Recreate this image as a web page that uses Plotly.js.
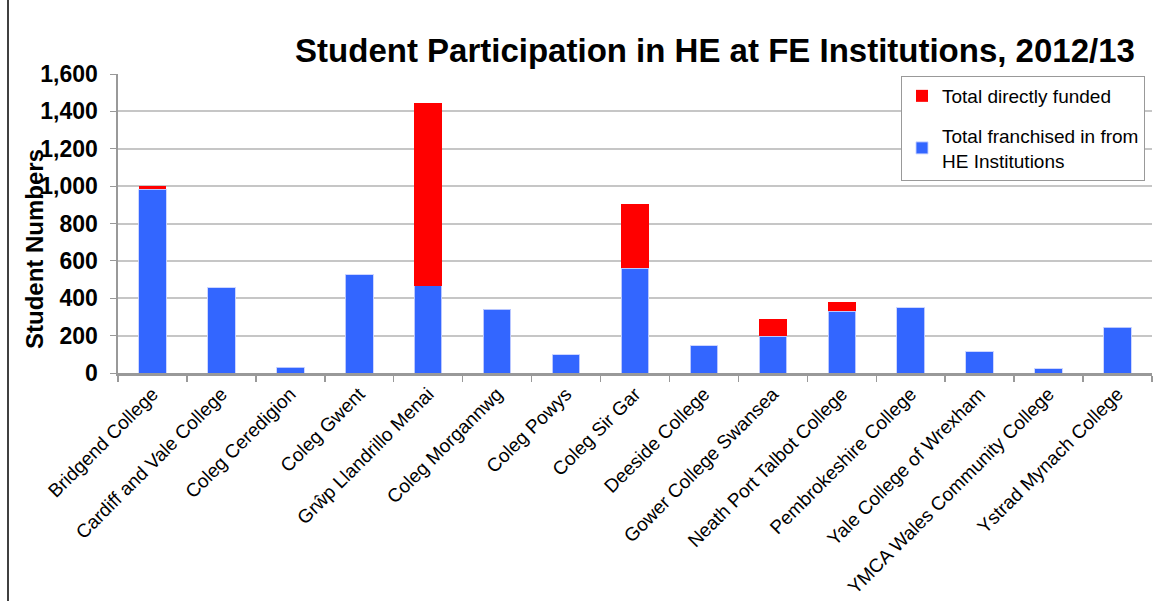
<!DOCTYPE html>
<html>
<head>
<meta charset="utf-8">
<script src="https://cdn.plot.ly/plotly-3.0.1.min.js"></script>
<style>html,body{margin:0;padding:0;background:#fff;}#chart{width:1153px;height:601px;}</style>
</head>
<body>
<div id="chart"></div>
<script>
const colleges = ["Bridgend College","Cardiff and Vale College","Coleg Ceredigion","Coleg Gwent","Grŵp Llandrillo Menai","Coleg Morgannwg","Coleg Powys","Coleg Sir Gar","Deeside College","Gower College Swansea","Neath Port Talbot College","Pembrokeshire College","Yale College of Wrexham","YMCA Wales Community College","Ystrad Mynach College"];
const franchised = [982, 457, 32, 527, 468, 340, 98, 561, 147, 198, 330, 348, 115, 24, 245];
const directlyFunded = [18, 0, 0, 0, 975, 0, 0, 343, 0, 93, 49, 0, 0, 0, 0];
const seriesNames = ["Total franchised in from<br>HE Institutions", "Total directly funded"];
const yTicks = [0, 200, 400, 600, 800, 1000, 1200, 1400, 1600];

const font = "Liberation Sans, Arial, sans-serif";
const traces = [
  {type:"bar", x:colleges, y:franchised, name:seriesNames[0], legendgroup:"a", legendrank:2,
   marker:{color:"#3366FF", line:{color:"rgba(200,210,255,0.9)", width:1}}, width:0.4},
  {type:"bar", x:colleges, y:directlyFunded, name:seriesNames[1], legendgroup:"b", legendrank:1,
   marker:{color:"#FF0000", line:{width:0}}, width:0.4}
];
const W=1153, H=601, L=118, R=1, T=74, B=228;
const PW = W-L-R, PH = H-T-B;
const px = v => (v-L)/PW;
const py = v => (H-B-v)/PH;
const layout = {
  width:W, height:H, barmode:"stack",
  margin:{l:L, r:R, t:T, b:B},
  paper_bgcolor:"#fff", plot_bgcolor:"#fff",
  font:{family:font, color:"#000"},
  title:{text:"<b>Student Participation in HE at FE Institutions, 2012/13</b>", font:{size:33, family:font, color:"#000"}, x:715/W, xref:"container", xanchor:"center", y:1-50/H, yref:"container", yanchor:"middle"},
  xaxis:{type:"category", tickangle:-45, tickfont:{size:19, family:font}, ticks:"outside", tickson:"boundaries", ticklen:6, tickcolor:"#999", tickwidth:1.5,
    showline:true, linecolor:"#999", linewidth:2.5, showgrid:false, automargin:false},
  yaxis:{range:[0,1600], tickvals:yTicks, tickformat:",", tickfont:{size:23, family:font, weight:"bold"}, ticks:"outside", ticklen:6, tickcolor:"#999", ticklabelstandoff:7,
    showline:true, linecolor:"#999", linewidth:2.5, showgrid:true, gridcolor:"#c6c6c6", gridwidth:2, zeroline:false, automargin:false},
  showlegend:true,
  legend:{traceorder:"grouped", x:px(901), y:py(76), xref:"paper", yref:"paper", xanchor:"left", yanchor:"top", bgcolor:"#fff", bordercolor:"#999", borderwidth:1, font:{size:19, family:font}, tracegroupgap:12, itemwidth:30},
  annotations:[{text:"<b>Student Numbers</b>", textangle:-90, xref:"paper", yref:"paper", x:px(34), y:py(249), xanchor:"center", yanchor:"middle", showarrow:false, font:{size:24, family:font, color:"#000"}}],
  shapes:[{type:"line", xref:"paper", yref:"paper", x0:px(8), x1:px(8), y0:py(H), y1:py(0), line:{color:"#000", width:1.5}}]
};
Plotly.newPlot("chart", traces, layout, {displayModeBar:false, staticPlot:true});
</script>
</body>
</html>
